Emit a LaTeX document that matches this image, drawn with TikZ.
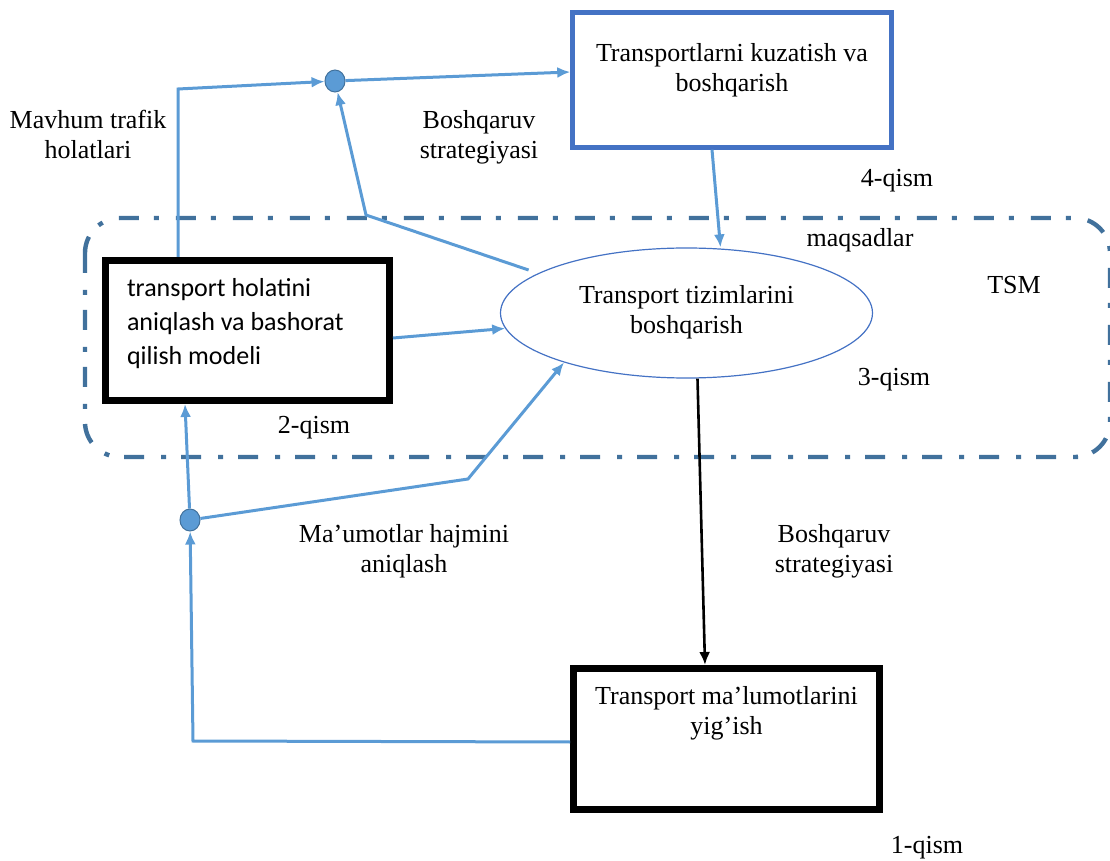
\documentclass[tikz,border=0pt]{standalone}
\usepackage{fontspec}
\setmainfont{Liberation Serif}
\newfontfamily\calibrifont{Carlito}
\usetikzlibrary{arrows.meta, shapes.geometric}

\definecolor{flowblue}{HTML}{5B9BD5}
\definecolor{boxblue}{HTML}{4472C4}
\definecolor{tsmblue}{HTML}{41719C}

\begin{document}
\begin{tikzpicture}[x=0.5pt, y=-0.5pt]
	\tikzset{>={Latex[length=6.5pt, width=5.5pt]}, every node/.style={font=\fontsize{13}{15}\selectfont, align=center},
		flow/.style={draw=flowblue, line width=1.5pt},
		blackflow/.style={draw=black, line width=1.3pt},
		bluebox/.style={draw=boxblue, line width=2.2pt, inner sep=0pt},
		blackbox/.style={draw=black, line width=3.5pt, inner sep=0pt},
		jdot/.style={ellipse, fill=flowblue, draw=tsmblue, line width=0.5pt, minimum width=10pt, minimum height=11pt, inner sep=0pt},
		tsmframe/.style={draw=tsmblue, line width=2.2pt, dash pattern=on 10pt off 8.5pt on 2.5pt off 7.5pt, rounded corners=17.5pt} }
	\useasboundingbox (0,0) rectangle (1110,861);

	% TSM chegarasi
	\draw[tsmframe] (85,218) rectangle (1110,457);

	\node[bluebox, minimum width=159.5pt, minimum height=67.5pt] (monitor) at (732,80) {\parbox[c][37pt][t]{150pt}{\centering Transportlarni kuzatish va\\boshqarish}};
	\node[ellipse, draw=boxblue, line width=0.6pt, minimum width=186pt, minimum height=65pt, inner sep=0pt] (ell) at (686.5,313) {\parbox[c][28pt][t]{130pt}{\centering Transport tizimlarini\\boshqarish}};
	\node[blackbox, minimum width=142pt, minimum height=70pt] (model) at (247.5,330.5) {\parbox[c][52pt][t]{120.5pt}{\calibrifont\fontsize{13}{17}\selectfont\raggedright transport holatini\\aniqlash va bashorat\\qilish modeli}};
	\node[blackbox, minimum width=153pt, minimum height=70.5pt] (collect) at (726.5,739) {\parbox[c][53pt][t]{150pt}{\centering Transport ma’lumotlarini\\yig’ish}};

	\node[jdot] (dot1) at (335,81) {};
	\node[jdot] (dot2) at (190,520) {};

	\node (lmavhum) at (88,134) {Mavhum trafik\\holatlari};
	\node (lstrat1) at (479,137.5) {Boshqaruv\\strategiyasi};
	\node (l4) at (897,180.5) {4-qism};
	\node (lgoal) at (860,240) {maqsadlar};
	\node (ltsm) at (1014,285) {TSM};
	\node (l3) at (894,380) {3-qism};
	\node (l2) at (314,428) {2-qism};
	\node (lhajm) at (404,551) {Ma’umotlar hajmini\\aniqlash};
	\node (lstrat2) at (834,551) {Boshqaruv\\strategiyasi};
	\node (l1) at (927,848) {1-qism};

	\coordinate (mc) at (178,89);
	\coordinate (sc) at (366,215);
	\coordinate (dc) at (468,479);
	\coordinate (lc) at (193,741);

	\draw[flow, ->] (model.north -| mc) -- (mc) -- (dot1);
	\draw[flow, ->] (dot1) -- ([yshift=4pt]monitor.west);
	\draw[flow, ->, shorten <=5pt] (ell.165) -- (sc) -- (dot1);
	\draw[flow, ->] ([xshift=-10pt]monitor.south) -- ([xshift=17pt]ell.north);
	\draw[flow, ->] ([yshift=-3.75pt]model.east) -- (ell);
	\draw[blackflow, ->] ([xshift=5.5pt]ell.south) -- ([xshift=-10.75pt]collect.north);
	\draw[flow, ->] (dot2) -- ([xshift=-31.25pt]model.south);
	\draw[flow, ->] (dot2) -- (dc) -- (ell.202);
	\draw[flow, ->] ([yshift=-1.5pt]collect.west) -- (lc) -- (dot2);
\end{tikzpicture}
\end{document}
